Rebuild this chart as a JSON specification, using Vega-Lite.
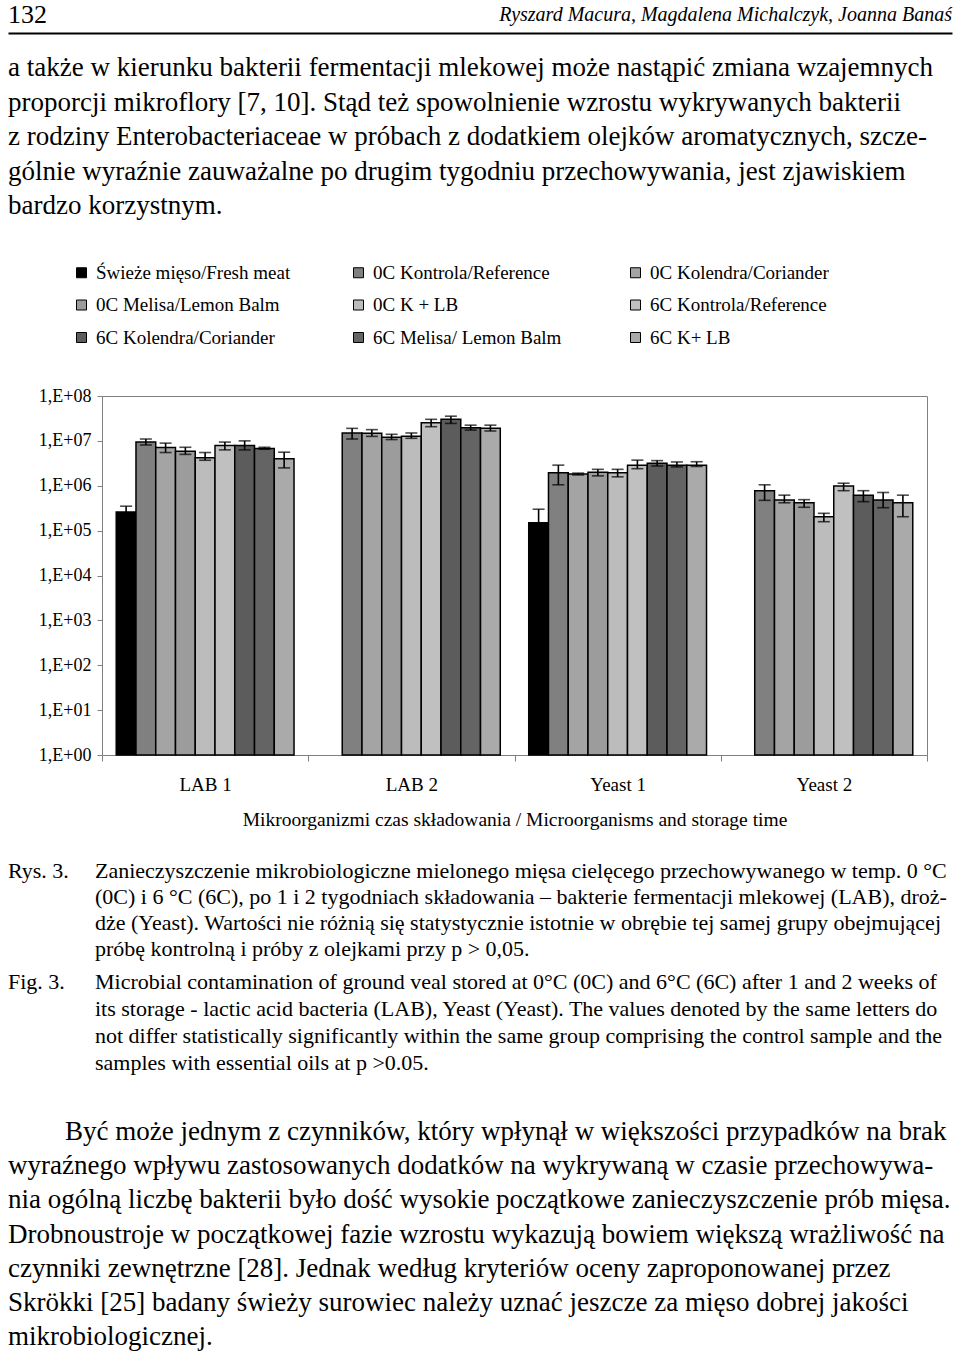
{
  "$schema": "https://vega.github.io/schema/vega-lite/v6.json",
  "padding": {"left": 8, "top": 0, "right": 0, "bottom": 0},
  "background": "white",
  "bounds": "flush",
  "spacing": 0,
  "config": {"view": {"stroke": null}, "font": "Liberation Serif"},
  "datasets": {
    "bars": [
      {"group": "LAB 1", "series": "Świeże mięso/Fresh meat", "value": 260000, "lo": 195000, "hi": 350000},
      {"group": "LAB 1", "series": "0C Kontrola/Reference", "value": 9400000, "lo": 8100000, "hi": 11000000},
      {"group": "LAB 1", "series": "0C Kolendra/Coriander", "value": 7100000, "lo": 5500000, "hi": 8900000},
      {"group": "LAB 1", "series": "0C Melisa/Lemon  Balm", "value": 5900000, "lo": 5000000, "hi": 7200000},
      {"group": "LAB 1", "series": "0C K + LB", "value": 4200000, "lo": 3700000, "hi": 5500000},
      {"group": "LAB 1", "series": "6C Kontrola/Reference", "value": 7900000, "lo": 6300000, "hi": 9400000},
      {"group": "LAB 1", "series": "6C Kolendra/Coriander", "value": 7900000, "lo": 6300000, "hi": 10000000},
      {"group": "LAB 1", "series": "6C Melisa/ Lemon  Balm", "value": 6800000, "lo": 6500000, "hi": 7200000},
      {"group": "LAB 1", "series": "6C K+ LB", "value": 4000000, "lo": 2500000, "hi": 5600000},
      {"group": "LAB 2", "series": "0C Kontrola/Reference", "value": 15000000, "lo": 11000000, "hi": 19000000},
      {"group": "LAB 2", "series": "0C Kolendra/Coriander", "value": 14800000, "lo": 12600000, "hi": 17800000},
      {"group": "LAB 2", "series": "0C Melisa/Lemon  Balm", "value": 12000000, "lo": 10700000, "hi": 14000000},
      {"group": "LAB 2", "series": "0C K + LB", "value": 12600000, "lo": 11400000, "hi": 15000000},
      {"group": "LAB 2", "series": "6C Kontrola/Reference", "value": 25400000, "lo": 20700000, "hi": 30200000},
      {"group": "LAB 2", "series": "6C Kolendra/Coriander", "value": 30200000, "lo": 24500000, "hi": 35500000},
      {"group": "LAB 2", "series": "6C Melisa/ Lemon  Balm", "value": 19500000, "lo": 17400000, "hi": 22400000},
      {"group": "LAB 2", "series": "6C K+ LB", "value": 19100000, "lo": 16600000, "hi": 22400000},
      {"group": "Yeast 1", "series": "Świeże mięso/Fresh meat", "value": 150000, "lo": 75000, "hi": 300000},
      {"group": "Yeast 1", "series": "0C Kontrola/Reference", "value": 1950000, "lo": 1050000, "hi": 2880000},
      {"group": "Yeast 1", "series": "0C Kolendra/Coriander", "value": 1820000, "lo": 1740000, "hi": 1910000},
      {"group": "Yeast 1", "series": "0C Melisa/Lemon  Balm", "value": 2000000, "lo": 1660000, "hi": 2320000},
      {"group": "Yeast 1", "series": "0C K + LB", "value": 1950000, "lo": 1580000, "hi": 2320000},
      {"group": "Yeast 1", "series": "6C Kontrola/Reference", "value": 2850000, "lo": 2400000, "hi": 3720000},
      {"group": "Yeast 1", "series": "6C Kolendra/Coriander", "value": 3160000, "lo": 2750000, "hi": 3630000},
      {"group": "Yeast 1", "series": "6C Melisa/ Lemon  Balm", "value": 2880000, "lo": 2630000, "hi": 3390000},
      {"group": "Yeast 1", "series": "6C K+ LB", "value": 2880000, "lo": 2690000, "hi": 3430000},
      {"group": "Yeast 2", "series": "0C Kontrola/Reference", "value": 776000, "lo": 473000, "hi": 1050000},
      {"group": "Yeast 2", "series": "0C Kolendra/Coriander", "value": 479000, "lo": 417000, "hi": 617000},
      {"group": "Yeast 2", "series": "0C Melisa/Lemon  Balm", "value": 417000, "lo": 331000, "hi": 490000},
      {"group": "Yeast 2", "series": "0C K + LB", "value": 204000, "lo": 158000, "hi": 243000},
      {"group": "Yeast 2", "series": "6C Kontrola/Reference", "value": 989000, "lo": 776000, "hi": 1140000},
      {"group": "Yeast 2", "series": "6C Kolendra/Coriander", "value": 617000, "lo": 442000, "hi": 776000},
      {"group": "Yeast 2", "series": "6C Melisa/ Lemon  Balm", "value": 479000, "lo": 324000, "hi": 708000},
      {"group": "Yeast 2", "series": "6C K+ LB", "value": 417000, "lo": 204000, "hi": 617000}
    ],
    "text": [
      {"block": "hdr", "line": 0, "col": "left", "text": "132"},
      {"block": "hdr", "line": 0, "col": "right", "text": "Ryszard Macura, Magdalena Michalczyk, Joanna Banaś"},
      {"block": "p1", "line": 0, "col": "body", "text": "a także w kierunku bakterii fermentacji mlekowej może nastąpić zmiana wzajemnych"},
      {"block": "p1", "line": 1, "col": "body", "text": "proporcji mikroflory [7, 10]. Stąd też spowolnienie wzrostu wykrywanych bakterii"},
      {"block": "p1", "line": 2, "col": "body", "text": "z rodziny Enterobacteriaceae w próbach z dodatkiem olejków aromatycznych, szcze-"},
      {"block": "p1", "line": 3, "col": "body", "text": "gólnie wyraźnie zauważalne po drugim tygodniu przechowywania, jest zjawiskiem"},
      {"block": "p1", "line": 4, "col": "body", "text": "bardzo korzystnym."},
      {"block": "rys", "line": 0, "col": "label", "text": "Rys. 3."},
      {"block": "rys", "line": 0, "col": "body", "text": "Zanieczyszczenie mikrobiologiczne mielonego mięsa cielęcego przechowywanego w temp. 0 °C"},
      {"block": "rys", "line": 1, "col": "body", "text": "(0C) i 6 °C (6C), po 1 i 2 tygodniach składowania – bakterie fermentacji mlekowej (LAB), droż-"},
      {"block": "rys", "line": 2, "col": "body", "text": "dże (Yeast). Wartości nie różnią się statystycznie istotnie w obrębie tej samej grupy obejmującej"},
      {"block": "rys", "line": 3, "col": "body", "text": "próbę kontrolną i próby z olejkami przy p > 0,05."},
      {"block": "fig", "line": 0, "col": "label", "text": "Fig. 3."},
      {"block": "fig", "line": 0, "col": "body", "text": "Microbial contamination of ground veal stored at 0°C (0C) and 6°C (6C) after 1 and 2 weeks of"},
      {"block": "fig", "line": 1, "col": "body", "text": "its storage - lactic acid bacteria (LAB), Yeast (Yeast). The values denoted by the same letters do"},
      {"block": "fig", "line": 2, "col": "body", "text": "not differ statistically significantly within the same group comprising the control sample and the"},
      {"block": "fig", "line": 3, "col": "body", "text": "samples with essential oils at p  >0.05."},
      {"block": "p2", "line": 0, "col": "indent", "text": "Być może jednym z czynników, który wpłynął w większości przypadków na brak"},
      {"block": "p2", "line": 1, "col": "body", "text": "wyraźnego wpływu zastosowanych dodatków na wykrywaną w czasie przechowywa-"},
      {"block": "p2", "line": 2, "col": "body", "text": "nia ogólną liczbę bakterii było dość wysokie początkowe zanieczyszczenie prób mięsa."},
      {"block": "p2", "line": 3, "col": "body", "text": "Drobnoustroje w początkowej fazie wzrostu wykazują bowiem większą wrażliwość na"},
      {"block": "p2", "line": 4, "col": "body", "text": "czynniki zewnętrzne [28]. Jednak według kryteriów oceny zaproponowanej przez"},
      {"block": "p2", "line": 5, "col": "body", "text": "Skrökki [25] badany świeży surowiec należy uznać jeszcze za mięso dobrej jakości"},
      {"block": "p2", "line": 6, "col": "body", "text": "mikrobiologicznej."}
    ]
  },
  "vconcat": [
    {
      "width": 825,
      "height": 33,
      "data": {"name": "text"},
      "transform": [{"filter": "datum.block == 'hdr'"}],
      "encoding": {
        "x": {"field": "col", "type": "nominal", "scale": {"type": "point", "padding": 0, "domain": ["left", "right"], "range": [-94, 850]}, "axis": {"orient": "bottom", "labels": false, "ticks": false, "title": null, "grid": false, "domain": true, "domainWidth": 2, "domainColor": "#000000"}},
        "y": {"field": "line", "type": "ordinal", "scale": {"type": "point", "padding": 0, "domain": [0], "range": [15, 15]}, "axis": null},
        "text": {"field": "text"}
      },
      "layer": [
        {"transform": [{"filter": "datum.col == 'left'"}], "mark": {"type": "text", "align": "left", "baseline": "middle", "font": "Liberation Serif", "fontSize": 26, "color": "#000000"}},
        {"transform": [{"filter": "datum.col == 'right'"}], "mark": {"type": "text", "align": "right", "baseline": "middle", "font": "Liberation Serif", "fontSize": 20, "fontStyle": "italic", "color": "#000000"}}
      ]
    },
    {
      "width": 825,
      "height": 363,
      "data": {"name": "text"},
      "transform": [{"filter": "datum.block == 'p1'"}],
      "mark": {"type": "text", "align": "left", "baseline": "middle", "font": "Liberation Serif", "fontSize": 27, "color": "#000000"},
      "encoding": {
        "x": {"field": "col", "type": "nominal", "scale": {"type": "point", "padding": 0, "domain": ["body"], "range": [-94, -94]}, "axis": null},
        "y": {"field": "line", "type": "ordinal", "scale": {"type": "point", "padding": 0, "domain": [0, 1, 2, 3, 4], "range": [35, 173]}, "axis": null},
        "text": {"field": "text"}
      }
    },
    {
      "width": 825,
      "height": 359,
      "view": {"stroke": "#808080", "strokeWidth": 1},
      "data": {"name": "bars"},
      "encoding": {
        "x": {
          "field": "group", "type": "nominal",
          "sort": ["LAB 1", "LAB 2", "Yeast 1", "Yeast 2"],
          "scale": {"paddingInner": 0, "paddingOuter": 0},
          "axis": {
            "title": "Mikroorganizmi czas składowania / Microorganisms and storage time",
            "titleFont": "Liberation Serif", "titleFontSize": 19.5, "titleFontWeight": "normal", "titleColor": "#000000", "titlePadding": 16,
            "labelAngle": 0, "labelFont": "Liberation Serif", "labelFontSize": 19, "labelColor": "#000000", "labelPadding": 14,
            "tickBand": "extent", "tickSize": 6, "tickColor": "#808080", "domainColor": "#808080", "domainWidth": 1, "grid": false
          }
        },
        "xOffset": {
          "field": "series", "type": "nominal",
          "sort": ["Świeże mięso/Fresh meat", "0C Kontrola/Reference", "0C Kolendra/Coriander", "0C Melisa/Lemon  Balm", "0C K + LB", "6C Kontrola/Reference", "6C Kolendra/Coriander", "6C Melisa/ Lemon  Balm", "6C K+ LB"],
          "scale": {"paddingInner": 0, "paddingOuter": 0.72}
        }
      },
      "layer": [
        {
          "mark": {"type": "bar", "stroke": "#000000", "strokeWidth": 1.5},
          "encoding": {
            "y": {
              "field": "value", "type": "quantitative", "stack": null,
              "scale": {"type": "log", "domain": [1, 100000000]},
              "axis": {
                "title": null, "values": [1, 10, 100, 1000, 10000, 100000, 1000000, 10000000, 100000000],
                "labelExpr": "'1,E+0' + round(log(datum.value) / LN10)",
                "labelFont": "Liberation Serif", "labelFontSize": 18, "labelColor": "#000000", "labelPadding": 6,
                "tickSize": 5, "tickColor": "#808080", "domainColor": "#808080", "grid": false
              }
            },
            "y2": {"datum": 1},
            "fill": {
              "field": "series", "type": "nominal",
              "scale": {
                "domain": ["Świeże mięso/Fresh meat", "0C Kontrola/Reference", "0C Kolendra/Coriander", "0C Melisa/Lemon  Balm", "0C K + LB", "6C Kontrola/Reference", "6C Kolendra/Coriander", "6C Melisa/ Lemon  Balm", "6C K+ LB"],
                "range": ["#000000", "#808080", "#a4a4a4", "#9c9c9c", "#bcbcbc", "#c0c0c0", "#5c5c5c", "#646464", "#aaaaaa"]
              },
              "legend": {
                "orient": "none", "legendX": -30, "legendY": 263, "columns": 3, "direction": "horizontal",
                "title": null, "padding": 0, "symbolType": "square", "symbolSize": 100,
                "symbolStrokeColor": "#000000", "symbolStrokeWidth": 1, "symbolOpacity": 1,
                "labelFont": "Liberation Serif", "labelFontSize": 19, "labelColor": "#000000", "labelOffset": 5, "labelLimit": 400,
                "columnPadding": 58, "rowPadding": 12.5, "gridAlign": "all"
              }
            }
          }
        },
        {
          "mark": {"type": "rule", "color": "#000000", "strokeWidth": 1.6},
          "encoding": {
            "y": {"field": "lo", "type": "quantitative", "axis": {"title": null}},
            "y2": {"field": "hi"}
          }
        },
        {
          "mark": {"type": "tick", "color": "#000000", "thickness": 1.6, "size": 12},
          "encoding": {"y": {"field": "hi", "type": "quantitative", "axis": {"title": null}}}
        },
        {
          "mark": {"type": "tick", "color": "#000000", "thickness": 1.6, "size": 12},
          "encoding": {"y": {"field": "lo", "type": "quantitative", "axis": {"title": null}}}
        }
      ]
    },
    {
      "width": 825,
      "height": 212,
      "data": {"name": "text"},
      "transform": [{"filter": "datum.block == 'rys'"}],
      "mark": {"type": "text", "align": "left", "baseline": "middle", "font": "Liberation Serif", "fontSize": 22, "color": "#000000"},
      "encoding": {
        "x": {"field": "col", "type": "nominal", "scale": {"type": "point", "padding": 0, "domain": ["label", "body"], "range": [-94, -7]}, "axis": null},
        "y": {"field": "line", "type": "ordinal", "scale": {"type": "point", "padding": 0, "domain": [0, 1, 2, 3], "range": [116, 194]}, "axis": null},
        "text": {"field": "text"}
      }
    },
    {
      "width": 825,
      "height": 125,
      "data": {"name": "text"},
      "transform": [{"filter": "datum.block == 'fig'"}],
      "mark": {"type": "text", "align": "left", "baseline": "middle", "font": "Liberation Serif", "fontSize": 22, "color": "#000000"},
      "encoding": {
        "x": {"field": "col", "type": "nominal", "scale": {"type": "point", "padding": 0, "domain": ["label", "body"], "range": [-94, -7]}, "axis": null},
        "y": {"field": "line", "type": "ordinal", "scale": {"type": "point", "padding": 0, "domain": [0, 1, 2, 3], "range": [15, 96]}, "axis": null},
        "text": {"field": "text"}
      }
    },
    {
      "width": 825,
      "height": 259,
      "data": {"name": "text"},
      "transform": [{"filter": "datum.block == 'p2'"}],
      "mark": {"type": "text", "align": "left", "baseline": "middle", "font": "Liberation Serif", "fontSize": 27, "color": "#000000"},
      "encoding": {
        "x": {"field": "col", "type": "nominal", "scale": {"type": "point", "padding": 0, "domain": ["indent", "body"], "range": [-37, -94]}, "axis": null},
        "y": {"field": "line", "type": "ordinal", "scale": {"type": "point", "padding": 0, "domain": [0, 1, 2, 3, 4, 5, 6], "range": [40, 245]}, "axis": null},
        "text": {"field": "text"}
      }
    }
  ]
}
